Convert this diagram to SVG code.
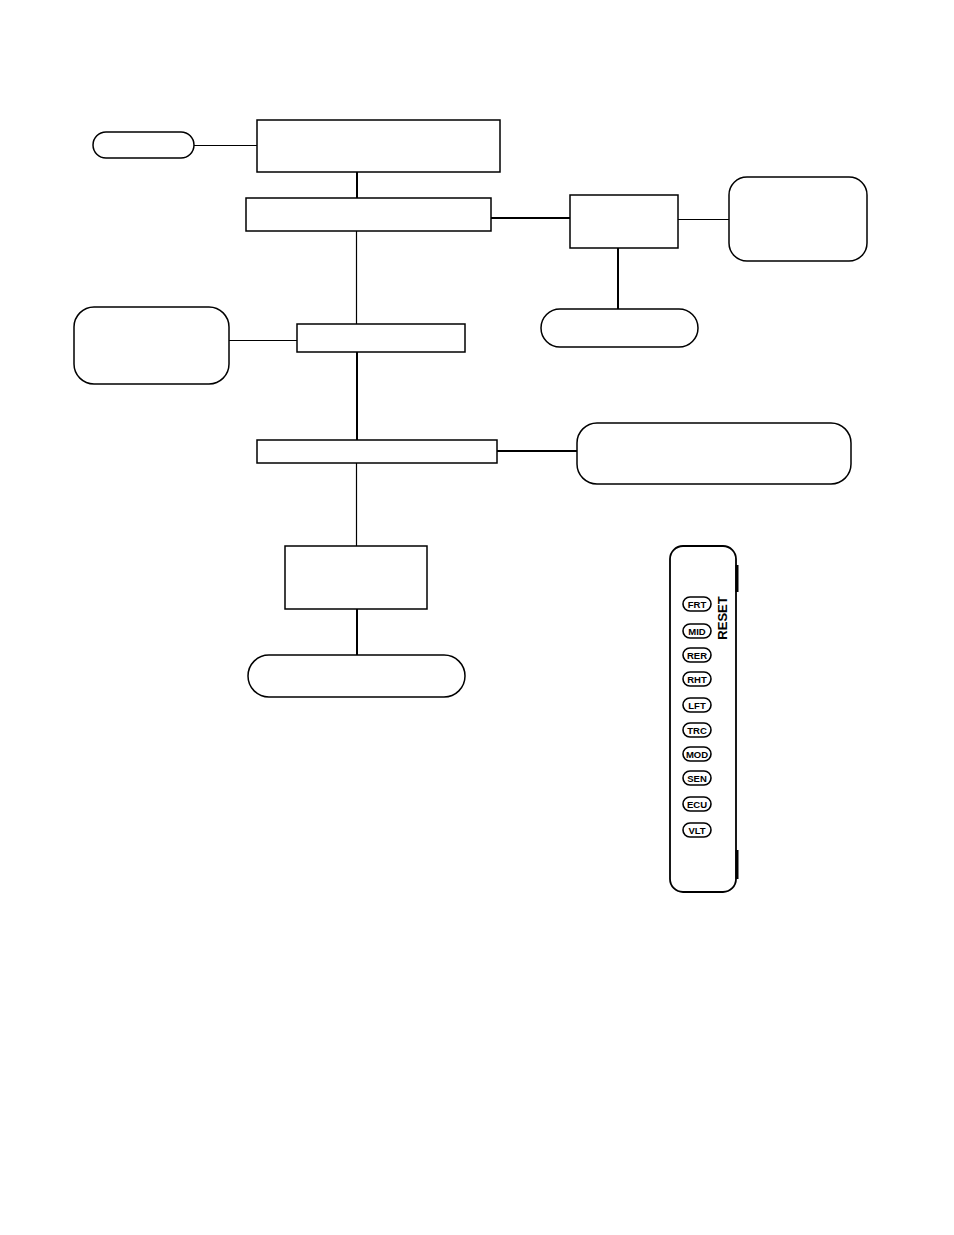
<svg xmlns="http://www.w3.org/2000/svg" width="954" height="1235" viewBox="0 0 954 1235">
<style>
.n{fill:#fff;stroke:#000;stroke-width:1.5}
.c{stroke:#000;fill:none}
.t{stroke-width:1.2}
.k{stroke-width:2}
.b{fill:#fff;stroke:#000;stroke-width:1.6}
.bt{font-family:"Liberation Sans",Arial,sans-serif;font-size:9.5px;font-weight:bold;text-anchor:middle}
</style>
<rect width="954" height="1235" fill="#fff"/>
<g id="connectors">
<line class="c t" x1="194" y1="145.5" x2="257" y2="145.5"/>
<line class="c k" x1="357" y1="172" x2="357" y2="198"/>
<line class="c k" x1="491" y1="218" x2="570" y2="218"/>
<line class="c t" x1="678" y1="219.5" x2="729" y2="219.5"/>
<line class="c k" x1="618" y1="248" x2="618" y2="309"/>
<line class="c t" x1="356.5" y1="231" x2="356.5" y2="324"/>
<line class="c t" x1="229" y1="340.5" x2="297" y2="340.5"/>
<line class="c k" x1="357" y1="352" x2="357" y2="440"/>
<line class="c k" x1="497" y1="451" x2="577" y2="451"/>
<line class="c t" x1="356.5" y1="463" x2="356.5" y2="546"/>
<line class="c k" x1="357" y1="609" x2="357" y2="655"/>
</g>
<g id="n1"><rect class="n" x="93" y="132" width="101" height="26" rx="13"/></g>
<g id="n2"><rect class="n" x="257" y="120" width="243" height="52"/></g>
<g id="n3"><rect class="n" x="246" y="198" width="245" height="33"/></g>
<g id="n4"><rect class="n" x="570" y="195" width="108" height="53"/></g>
<g id="n5"><rect class="n" x="729" y="177" width="138" height="84" rx="18"/></g>
<g id="n6"><rect class="n" x="541" y="309" width="157" height="38" rx="19"/></g>
<g id="n7"><rect class="n" x="74" y="307" width="155" height="77" rx="20"/></g>
<g id="n8"><rect class="n" x="297" y="324" width="168" height="28"/></g>
<g id="n9"><rect class="n" x="257" y="440" width="240" height="23"/></g>
<g id="n10"><rect class="n" x="577" y="423" width="274" height="61" rx="20"/></g>
<g id="n11"><rect class="n" x="285" y="546" width="142" height="63"/></g>
<g id="n12"><rect class="n" x="248" y="655" width="217" height="42" rx="21"/></g>
<g id="device">
<rect x="670" y="546" width="66" height="346" rx="13" fill="#fff" stroke="#000" stroke-width="1.8"/>
<line x1="737" y1="565" x2="737" y2="592" stroke="#000" stroke-width="3"/>
<line x1="737" y1="850" x2="737" y2="879" stroke="#000" stroke-width="3"/>
<text transform="translate(727,618) rotate(-90)" font-family="Liberation Sans,Arial,sans-serif" font-size="13" font-weight="bold" text-anchor="middle">RESET</text>
<g>
<rect class="b" x="683" y="597" width="28" height="14" rx="7"/><text class="bt" x="697" y="607.5">FRT</text>
<rect class="b" x="683" y="624" width="28" height="14" rx="7"/><text class="bt" x="697" y="634.5">MID</text>
<rect class="b" x="683" y="648" width="28" height="14" rx="7"/><text class="bt" x="697" y="658.5">RER</text>
<rect class="b" x="683" y="672" width="28" height="14" rx="7"/><text class="bt" x="697" y="682.5">RHT</text>
<rect class="b" x="683" y="698" width="28" height="14" rx="7"/><text class="bt" x="697" y="708.5">LFT</text>
<rect class="b" x="683" y="723" width="28" height="14" rx="7"/><text class="bt" x="697" y="733.5">TRC</text>
<rect class="b" x="683" y="747" width="28" height="14" rx="7"/><text class="bt" x="697" y="757.5">MOD</text>
<rect class="b" x="683" y="771" width="28" height="14" rx="7"/><text class="bt" x="697" y="781.5">SEN</text>
<rect class="b" x="683" y="797" width="28" height="14" rx="7"/><text class="bt" x="697" y="807.5">ECU</text>
<rect class="b" x="683" y="823" width="28" height="14" rx="7"/><text class="bt" x="697" y="833.5">VLT</text>
</g>
</g>
</svg>
